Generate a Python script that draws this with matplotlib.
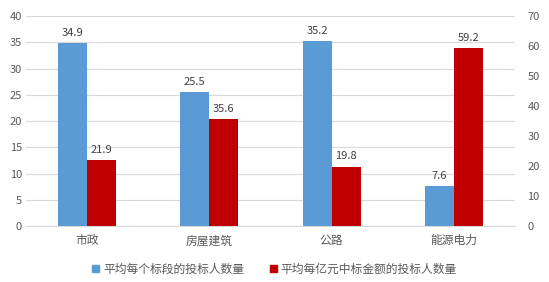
import matplotlib
matplotlib.use("Agg")
import matplotlib.pyplot as plt
import numpy as np
from matplotlib.patches import Patch

plt.rcParams['font.family'] = ['Noto Sans CJK SC', 'DejaVu Sans']

categories = ['市政', '房屋建筑', '公路', '能源电力']
per_section = [34.9, 25.5, 35.2, 7.6]
per_billion = [21.9, 35.6, 19.8, 59.2]
series_names = ['平均每个标段的投标人数量', '平均每亿元中标金额的投标人数量']
left_ticks = [0, 5, 10, 15, 20, 25, 30, 35, 40]
right_ticks = [0, 10, 20, 30, 40, 50, 60, 70]

blue = '#5B9BD5'
red = '#C00000'
txt = '#595959'
grid = '#D9D9D9'

fig = plt.figure(figsize=(5.49, 2.82), dpi=100)
ax = fig.add_axes([0.0474, 0.1986, 0.8906, 0.7446])
ax2 = ax.twinx()

x = np.arange(len(categories))
w = 0.238
ax.bar(x - w/2, per_section, w, color=blue, zorder=3)
ax2.bar(x + w/2, per_billion, w, color=red, zorder=3)

ax.set_ylim(0, 40)
ax2.set_ylim(0, 70)
ax.set_xlim(-0.5, len(categories) - 0.5)
ax.set_yticks(left_ticks)
ax2.set_yticks(right_ticks)
ax.set_xticks(x)
ax.set_xticklabels(categories, fontsize=8.5, color=txt)

for a in (ax, ax2):
    for s in a.spines.values():
        s.set_visible(False)
ax.tick_params(axis='y', length=0, labelsize=8, labelcolor=txt, pad=3)
ax2.tick_params(axis='y', length=0, labelsize=8, labelcolor=txt, pad=9)
ax.tick_params(axis='x', length=0, pad=6)
ax.spines['bottom'].set_visible(True)
ax.spines['bottom'].set_color(grid)
ax.grid(axis='y', color=grid, linewidth=0.8, zorder=0)
ax.set_axisbelow(True)

for xi, v in zip(x, per_section):
    ax.text(xi - w/2, v + 1.0, f'{v}', ha='center', va='bottom', fontsize=8, color='#404040')
for xi, v in zip(x, per_billion):
    ax2.text(xi + w/2, v + 1.75, f'{v}', ha='center', va='bottom', fontsize=8, color='#404040')

handles = [Patch(color=blue), Patch(color=red)]
fig.legend(handles, series_names, loc='center', bbox_to_anchor=(0.5, 0.045), ncol=2,
           frameon=False, fontsize=8.5, handlelength=0.6, handleheight=0.6,
           handletextpad=0.3, columnspacing=2.2, labelcolor=txt)

fig.savefig('out.png', dpi=100)
